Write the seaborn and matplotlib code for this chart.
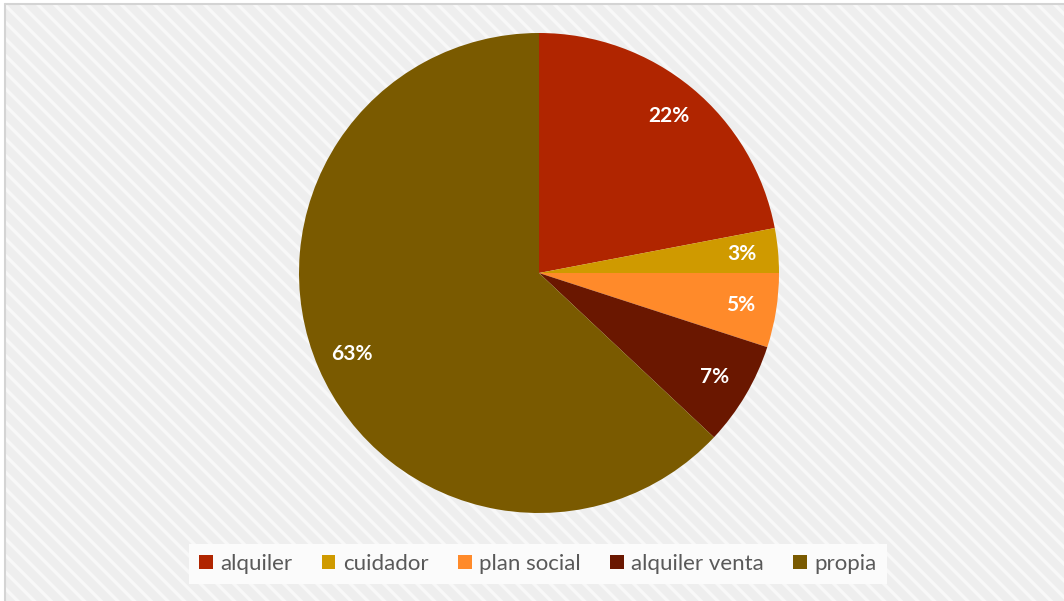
import matplotlib
matplotlib.use("Agg")
import matplotlib.pyplot as plt
from matplotlib.patches import Rectangle
from matplotlib.lines import Line2D
import seaborn as sns

# Housing tenure shares (percent)
categories = ["alquiler", "cuidador", "plan social", "alquiler venta", "propia"]
shares = [22, 3, 5, 7, 63]
slice_colors = ["#B02500", "#CF9A00", "#FF8A2A", "#6A1700", "#7A5A00"]

sns.set_theme(style="white")
plt.rcParams["font.family"] = ["Lato", "DejaVu Sans"]
plt.rcParams["hatch.linewidth"] = 2.4

W, H = 1064, 601
fig = plt.figure(figsize=(W / 100, H / 100), dpi=100, facecolor="white")

# textured chart area with a light border on the top and left
bg = Rectangle((5 / W, -0.05), 1.1, (H - 4) / H + 0.05, transform=fig.transFigure,
               facecolor="#eeeeee", edgecolor="#f8f8f8", hatch="\\\\", linewidth=0,
               zorder=-10)
fig.patches.append(bg)
fig.add_artist(Line2D([5 / W, 1], [(H - 4) / H] * 2, transform=fig.transFigure,
                      color="#d4d4d4", lw=1.5))
fig.add_artist(Line2D([5 / W] * 2, [0, (H - 4) / H], transform=fig.transFigure,
                      color="#d4d4d4", lw=1.5))

cx, cy, r = 539, 273, 240
ax = fig.add_axes([(cx - r) / W, (H - cy - r) / H, 2 * r / W, 2 * r / H])
ax.set_facecolor("none")
palette = sns.color_palette(slice_colors)
wedges, texts, autotexts = ax.pie(
    shares, colors=palette, startangle=90, counterclock=False,
    autopct=lambda p: f"{p:.0f}%", pctdistance=0.85, radius=1,
    wedgeprops=dict(linewidth=0),
    textprops=dict(color="white", fontsize=15, fontweight="bold"))
ax.set_xlim(-1, 1)
ax.set_ylim(-1, 1)
ax.set_aspect("equal")
ax.axis("off")

leg = fig.legend(wedges, categories, loc="center", ncol=5,
                 bbox_to_anchor=(538 / W, 1 - 564 / H), frameon=True,
                 fontsize=16, handlelength=0.62, handleheight=0.62,
                 handletextpad=0.35, columnspacing=1.3, borderpad=0.45,
                 borderaxespad=0, labelcolor="#595959")
frame = leg.get_frame()
frame.set_facecolor("#fbfbfb")
frame.set_edgecolor("none")
frame.set_alpha(1)
frame.set_boxstyle("square", pad=0)

fig.savefig("out.png", dpi=100, facecolor="white")
